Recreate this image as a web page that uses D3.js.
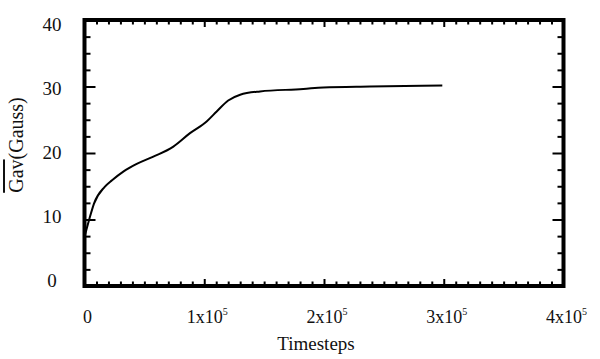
<!DOCTYPE html>
<html>
<head>
<meta charset="utf-8">
<script src="https://cdn.jsdelivr.net/npm/d3@7"></script>
<style>
  body { margin: 0; background: #fff; }
  svg text { font-family: "Liberation Serif", "DejaVu Serif", serif; fill: #111; }
</style>
</head>
<body>
<div id="chart"></div>
<script>
// ---- data ----
const steps = [0, 3760, 7930, 16870, 23000, 32400, 43600, 57500, 74200, 88100, 102000, 110400, 120000, 130000, 146600, 182700, 199400, 238400, 298800];
const gav   = [7.4, 9.9, 12.4, 14.9, 15.9, 17.2, 18.35, 19.46, 20.97, 22.99, 24.74, 26.25, 27.9, 28.76, 29.26, 29.62, 29.86, 30.0, 30.16];

const xTicks = [0, 1e5, 2e5, 3e5, 4e5];
const xMantissa = ["0", "1", "2", "3", "4"];
const xExponent = "5";
const yTicks = [0, 10, 20, 30, 40];
const yTickLabels = ["0", "10", "20", "30", "40"];
const xTitle = "Timesteps";

// ---- layout ----
const width = 600, height = 359;
const pLeft = 84.5, pRight = 563.5, pTop = 20, pBottom = 286;

const svg = d3.select('#chart').append('svg')
  .attr('width', width)
  .attr('height', height);

const x = d3.scaleLinear().domain([0, 4e5]).range([pLeft, pRight]);
const y = d3.scaleLinear().domain([0, 40]).range([pBottom, pTop]);
// labels on the left sit a bit tighter than the ticks
const yLab = d3.scaleLinear().domain([0, 40]).range([280, 24]);

const xMinor = d3.range(0, 4e5 + 1, 1e4).filter(v => v % 1e5 !== 0);
const yMinor = d3.range(0, 40.01, 2.5).filter(v => v % 10 !== 0);

// ticks (all pointing inward, on all four sides)
function tickGroup(axis, tx, ty) {
  const g = svg.append('g').attr('transform', `translate(${tx},${ty})`).call(axis);
  g.select('.domain').remove();
  g.selectAll('.tick line').attr('stroke', '#000').attr('stroke-width', 2);
  g.selectAll('.tick text').remove();
  return g;
}
tickGroup(d3.axisBottom(x).tickValues(xTicks).tickSize(-7), 0, pBottom);
tickGroup(d3.axisBottom(x).tickValues(xMinor).tickSize(-4.5), 0, pBottom);
tickGroup(d3.axisTop(x).tickValues(xTicks).tickSize(-7), 0, pTop);
tickGroup(d3.axisTop(x).tickValues(xMinor).tickSize(-4.5), 0, pTop);
tickGroup(d3.axisLeft(y).tickValues(yTicks).tickSize(-11), pLeft, 0);
tickGroup(d3.axisLeft(y).tickValues(yMinor).tickSize(-6), pLeft, 0);
tickGroup(d3.axisRight(y).tickValues(yTicks).tickSize(-11), pRight, 0);
tickGroup(d3.axisRight(y).tickValues(yMinor).tickSize(-6), pRight, 0);

// frame
svg.append('rect')
  .attr('x', pLeft).attr('y', pTop)
  .attr('width', pRight - pLeft).attr('height', pBottom - pTop)
  .attr('fill', 'none').attr('stroke', '#000').attr('stroke-width', 4);

// curve
const pts = steps.map((s, i) => [s, gav[i]]);
const line = d3.line()
  .x(d => x(d[0]))
  .y(d => y(d[1]))
  .curve(d3.curveMonotoneX);
svg.append('path')
  .datum(pts)
  .attr('d', line)
  .attr('fill', 'none')
  .attr('stroke', '#000')
  .attr('stroke-width', 2);

// y tick labels
svg.append('g').selectAll('text')
  .data(yTicks)
  .join('text')
  .attr('x', 52)
  .attr('y', d => yLab(d))
  .attr('dy', '0.35em')
  .attr('text-anchor', 'middle')
  .attr('font-size', 19)
  .text((d, i) => yTickLabels[i]);

// x tick labels
const xl = svg.append('g').selectAll('text')
  .data(xTicks)
  .join('text')
  .attr('x', d => x(d) + 3)
  .attr('y', 323)
  .attr('text-anchor', 'middle')
  .attr('font-size', 18);
xl.each(function(d, i) {
  const t = d3.select(this);
  if (xMantissa[i] === "0") { t.text("0"); return; }
  t.append('tspan').text(xMantissa[i] + "x10");
  t.append('tspan').attr('font-size', 10).attr('dy', -8).text(xExponent);
});

// axis titles
svg.append('text')
  .attr('x', 316).attr('y', 350)
  .attr('text-anchor', 'middle')
  .attr('font-size', 19)
  .text(xTitle);

const yt = svg.append('text')
  .attr('transform', 'translate(23,145) rotate(-90)')
  .attr('text-anchor', 'middle')
  .attr('font-size', 20);
yt.append('tspan').style('text-decoration', 'overline').text('Gav');
yt.append('tspan').text('(Gauss)');
</script>
</body>
</html>
